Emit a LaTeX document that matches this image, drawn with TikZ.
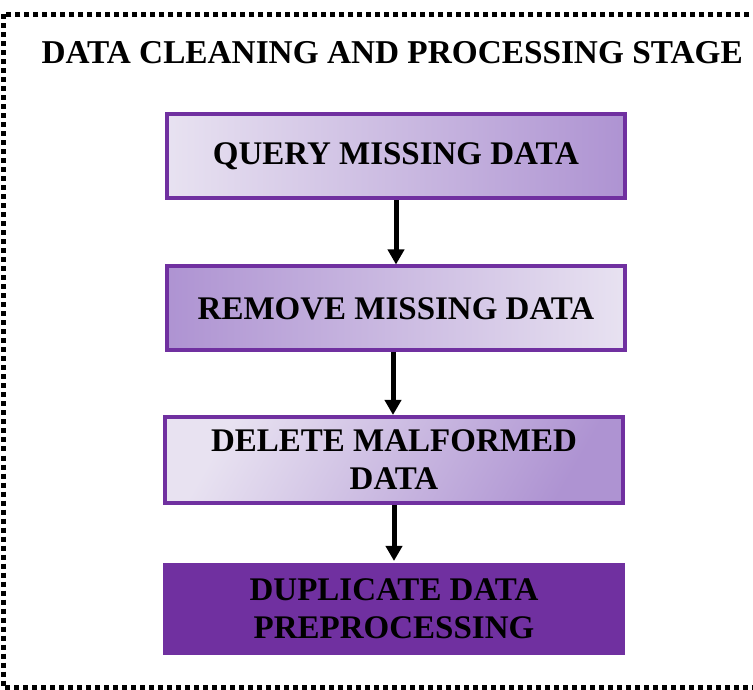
\documentclass[tikz,border=0pt]{standalone}
\usepackage{fontspec}
\setmainfont{Liberation Serif}
\usetikzlibrary{arrows.meta}
\definecolor{stagepurple}{HTML}{7030A0}
\definecolor{lavlight}{HTML}{E8E2F1}
\definecolor{lavdark}{HTML}{AE93D2}
\tikzset{
  stepbox/.style={draw=stagepurple,line width=4bp,minimum width=458bp,minimum height=84bp,
    align=center,font=\fontsize{33bp}{38bp}\selectfont\bfseries,inner sep=0pt},
  flow/.style={line width=5bp,-{Triangle[width=16bp,length=15bp]}},
}
\begin{document}
\begin{tikzpicture}[x=1bp,y=1bp]
%%
\useasboundingbox (0,0) rectangle (753,690);
\clip (0,0) rectangle (753,690);
\draw [line width=5bp,dash pattern=on 5bp off 4bp] (3.5,675.5) rectangle (765,2);
\node (title) at (38,637) [anchor=west,font=\fontsize{33.3bp}{36bp}\selectfont\bfseries] {DATA CLEANING AND PROCESSING STAGE};
\node (query) at (396,533.5) [stepbox,left color=lavlight,right color=lavdark] {QUERY MISSING DATA};
\node (remove) at (396,381.5) [stepbox,left color=lavdark,right color=lavlight] {REMOVE MISSING DATA};
\node (delete) at (394,230) [stepbox,minimum height=86bp,shading=axis,left color=lavlight,right color=lavdark,shading angle=60] {DELETE MALFORMED\\DATA};
\node (dup) at (394,81) [stepbox,draw=none,fill=stagepurple,minimum width=462bp,minimum height=92bp] {DUPLICATE DATA\\PREPROCESSING};
\draw [flow] (query) -- (remove);
\draw [flow] (remove.south -| 393,0) -- (delete.north -| 393,0);
\draw [flow] (delete) -- (dup);
%
\end{tikzpicture}
\end{document}
